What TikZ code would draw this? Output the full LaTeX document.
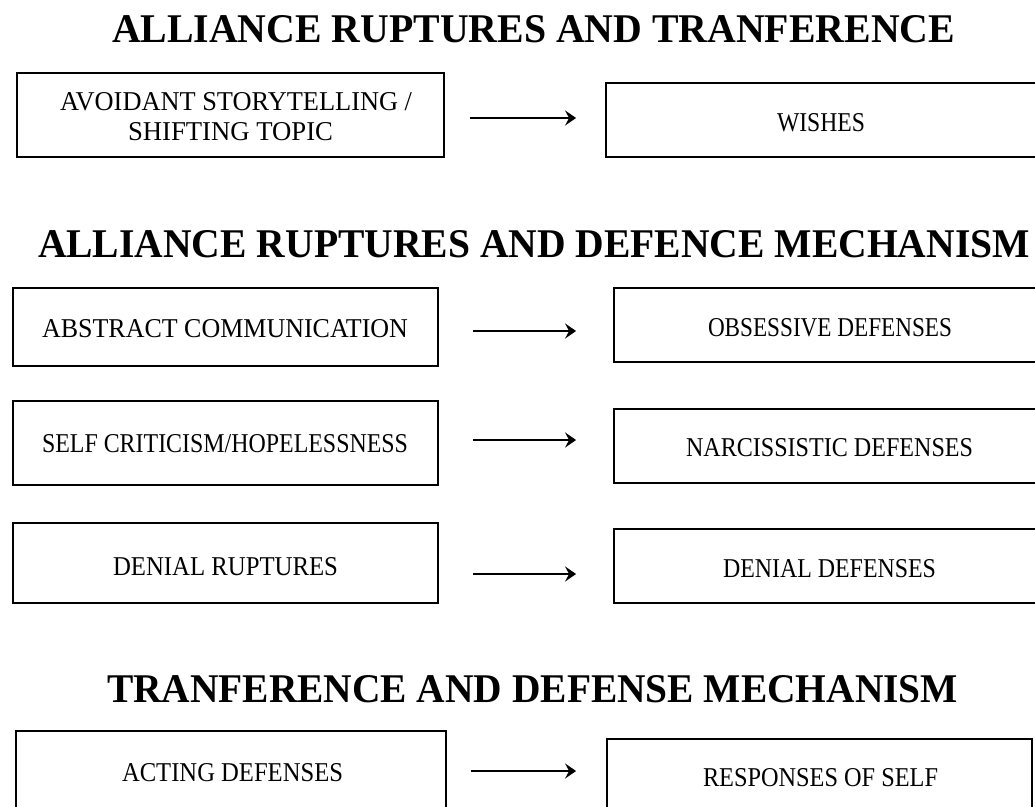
\documentclass[tikz,border=0pt]{standalone}
\usepackage{fontspec}
\setmainfont{Liberation Serif}
\usetikzlibrary{arrows.meta}
\newcommand{\fitw}[3]{\resizebox{#1pt}{#2pt}{#3}}
\begin{document}
\begin{tikzpicture}[x=1pt,y=-1pt,
  box/.style={draw=black, line width=1.8pt, rectangle, inner sep=0pt},
  txt/.style={anchor=base west, inner sep=0pt, outer sep=0pt, text=black},
  ttl/.style={anchor=base west, inner sep=0pt, outer sep=0pt, text=black, font=\bfseries},
  arr/.style={line width=2.4pt, -{Stealth[length=11pt,width=15pt,inset=4pt]}}]
\useasboundingbox (0,0) rectangle (1035,806);
\clip (0,0) rectangle (1035,806);
\fill[white] (0,0) rectangle (1035,806);
% titles
\node[ttl] (t1) at (112,42) {\fitw{843}{27}{\bfseries ALLIANCE RUPTURES AND TRANFERENCE}};
\node[ttl] (t2) at (38,257) {\fitw{992}{27}{\bfseries ALLIANCE RUPTURES AND DEFENCE MECHANISM}};
\node[ttl] (t3) at (107,702) {\fitw{851}{27}{\bfseries TRANFERENCE AND DEFENSE MECHANISM}};
% boxes
\node[box, minimum width=427pt, minimum height=84pt] (l1) at (230.5,115) {};
\node[box, minimum width=439pt, minimum height=74pt] (r1) at (825.5,120) {};
\node[box, minimum width=425pt, minimum height=78pt] (l2) at (225.5,327) {};
\node[box, minimum width=431pt, minimum height=74pt] (r2) at (829.5,325) {};
\node[box, minimum width=425pt, minimum height=84pt] (l3) at (225.5,443) {};
\node[box, minimum width=431pt, minimum height=74pt] (r3) at (829.5,446) {};
\node[box, minimum width=425pt, minimum height=80pt] (l4) at (225.5,563) {};
\node[box, minimum width=431pt, minimum height=74pt] (r4) at (829.5,566) {};
\node[box, minimum width=430pt, minimum height=99pt] (l5) at (231,780.5) {};
\node[box, minimum width=425pt, minimum height=91pt] (r5) at (819.5,784.5) {};
% texts
\node[txt] (x1a) at (60,110) {\fitw{352}{18}{AVOIDANT STORYTELLING /}};
\node[txt] (x1b) at (128,140) {\fitw{205}{18}{SHIFTING TOPIC}};
\node[txt] (y1) at (777,131) {\fitw{88}{18}{WISHES}};
\node[txt] (x2) at (42,337) {\fitw{366}{18}{ABSTRACT COMMUNICATION}};
\node[txt] (y2) at (708,336) {\fitw{244}{18}{OBSESSIVE DEFENSES}};
\node[txt] (x3) at (42,452) {\fitw{366}{18}{SELF CRITICISM/HOPELESSNESS}};
\node[txt] (y3) at (686,456) {\fitw{287}{18}{NARCISSISTIC DEFENSES}};
\node[txt] (x4) at (113,575) {\fitw{225}{18}{DENIAL RUPTURES}};
\node[txt] (y4) at (723,577) {\fitw{213}{18}{DENIAL DEFENSES}};
\node[txt] (x5) at (122,781) {\fitw{221}{18}{ACTING DEFENSES}};
\node[txt] (y5) at (703,786) {\fitw{235}{18}{RESPONSES OF SELF}};
% arrows
\draw[arr] ([xshift=25pt,yshift=-3pt]l1.east) -- ([xshift=-29pt,yshift=2pt]r1.west);
\draw[arr] ([xshift=34pt,yshift=-4pt]l2.east) -- ([xshift=-37pt,yshift=-6pt]r2.west);
\draw[arr] ([xshift=34pt,yshift=3pt]l3.east) -- ([xshift=-37pt,yshift=6pt]r3.west);
\draw[arr] ([xshift=34pt,yshift=-11pt]l4.east) -- ([xshift=-37pt,yshift=-8pt]r4.west);
\draw[arr] ([xshift=24pt,yshift=9.5pt]l5.east) -- ([xshift=-30pt,yshift=13.5pt]r5.west);
\end{tikzpicture}
\end{document}
